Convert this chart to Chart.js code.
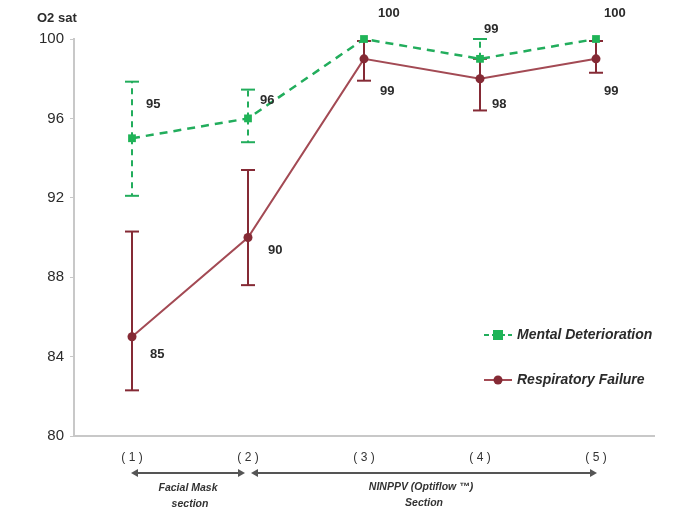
<!DOCTYPE html>
<html>
<head>
<meta charset="utf-8">
<script src="https://cdn.jsdelivr.net/npm/chart.js@4.4.1/dist/chart.umd.min.js"></script>
<style>
  html, body { margin: 0; padding: 0; background: #fff; }
  #wrap { width: 685px; height: 516px; position: relative; }
</style>
</head>
<body>
<div id="wrap"><canvas id="c" width="685" height="516"></canvas></div>
<script>
// Time points and O2 saturation by group
const timePoints = ['( 1 )', '( 2 )', '( 3 )', '( 4 )', '( 5 )'];
const mentalValues = [95, 96, 100, 99, 100];
const mentalErrUp = [2.85, 1.45, 0, 1.0, 0];
const mentalErrDown = [2.9, 1.2, 0, 0, 0];
const respValues = [85, 90, 99, 98, 99];
const respErrUp = [5.3, 3.4, 0.9, 1.0, 0.9];
const respErrDown = [2.7, 2.4, 1.1, 1.6, 0.7];
const yTicks = [80, 84, 88, 92, 96, 100];

const GREEN = '#22ad5c';
const GREEN_MARK = '#1fb457';
const RED = '#852a35';
const RED_LINE = '#a34a54';
const TEXT = '#2b2b2b';

// Error bars with caps, drawn through the chart's own scales
const errorBars = {
  id: 'errorBars',
  beforeDatasetsDraw(chart) {
    const ctx = chart.ctx;
    const x = chart.scales.x, y = chart.scales.y;
    const sets = [
      { vals: respValues, up: respErrUp, down: respErrDown, color: RED, dash: [] },
      { vals: mentalValues, up: mentalErrUp, down: mentalErrDown, color: GREEN, dash: [6, 5] }
    ];
    sets.forEach(s => {
      ctx.save();
      ctx.strokeStyle = s.color;
      ctx.lineWidth = 2;
      s.vals.forEach((v, i) => {
        const px = x.getPixelForValue(i);
        const segs = [];
        if (s.up[i] > 0) segs.push(v + s.up[i]);
        if (s.down[i] > 0) segs.push(v - s.down[i]);
        segs.forEach(end => {
          const py0 = y.getPixelForValue(v);
          const py1 = y.getPixelForValue(end);
          ctx.setLineDash(s.dash);
          ctx.beginPath(); ctx.moveTo(px, py0); ctx.lineTo(px, py1); ctx.stroke();
          ctx.setLineDash([]);
          ctx.beginPath(); ctx.moveTo(px - 7, py1); ctx.lineTo(px + 7, py1); ctx.stroke();
        });
      });
      ctx.restore();
    });
  }
};

// Value labels, axis caption, legend and section arrows
const annotations = {
  id: 'annotations',
  afterDraw(chart) {
    const ctx = chart.ctx;
    const x = chart.scales.x, y = chart.scales.y;
    ctx.save();
    ctx.fillStyle = TEXT;
    ctx.font = 'bold 13px "Liberation Sans", Arial, sans-serif';
    ctx.textBaseline = 'middle';
    ctx.textAlign = 'left';
    // label offsets (dx, dy) for each point
    const mOff = [[14, -34], [12, -18], [14, -26], [4, -29], [8, -26]];
    const rOff = [[18, 18], [20, 13], [16, 33], [12, 26], [8, 33]];
    mentalValues.forEach((v, i) => {
      ctx.fillText(String(v), x.getPixelForValue(i) + mOff[i][0], y.getPixelForValue(v) + mOff[i][1]);
    });
    respValues.forEach((v, i) => {
      ctx.fillText(String(v), x.getPixelForValue(i) + rOff[i][0], y.getPixelForValue(v) + rOff[i][1]);
    });

    // axis caption
    ctx.font = 'bold 13px "Liberation Sans", Arial, sans-serif';
    ctx.fillText('O2 sat', 37, 18);

    // legend
    const items = [
      { label: 'Mental Deterioration', color: GREEN, mark: 'rect', dash: [5, 3], y: 335 },
      { label: 'Respiratory Failure', color: RED_LINE, mark: 'circle', dash: [], y: 380 }
    ];
    items.forEach(it => {
      ctx.strokeStyle = it.color;
      ctx.lineWidth = 2;
      ctx.setLineDash(it.dash);
      ctx.beginPath(); ctx.moveTo(484, it.y); ctx.lineTo(512, it.y); ctx.stroke();
      ctx.setLineDash([]);
      if (it.mark === 'rect') {
        ctx.fillStyle = GREEN_MARK;
        ctx.fillRect(493, it.y - 5, 10, 10);
      } else {
        ctx.fillStyle = RED;
        ctx.beginPath(); ctx.arc(498, it.y, 4.5, 0, Math.PI * 2); ctx.fill();
      }
      ctx.fillStyle = TEXT;
      ctx.font = 'italic bold 14px "Liberation Sans", Arial, sans-serif';
      ctx.fillText(it.label, 517, it.y);
    });

    // section arrows under the axis
    const ay = 473;
    const arrow = (x0, x1) => {
      ctx.strokeStyle = '#555';
      ctx.fillStyle = '#555';
      ctx.lineWidth = 2;
      ctx.beginPath(); ctx.moveTo(x0 + 2, ay); ctx.lineTo(x1 - 2, ay); ctx.stroke();
      [[x0, 1], [x1, -1]].forEach(([px, d]) => {
        ctx.beginPath();
        ctx.moveTo(px, ay);
        ctx.lineTo(px + 7 * d, ay - 4);
        ctx.lineTo(px + 7 * d, ay + 4);
        ctx.closePath();
        ctx.fill();
      });
    };
    const p1 = x.getPixelForValue(0), p2 = x.getPixelForValue(1), p5 = x.getPixelForValue(4);
    arrow(p1 - 1, p2 - 3);
    arrow(p2 + 3, p5 + 1);

    ctx.fillStyle = '#333';
    ctx.textAlign = 'center';
    ctx.font = 'italic bold 10.5px "Liberation Sans", Arial, sans-serif';
    ctx.fillText('Facial Mask', 188, 488);
    ctx.fillText('section', 190, 504);
    ctx.fillText('NINPPV (Optiflow \u2122)', 421, 487);
    ctx.fillText('Section', 424, 503);
    ctx.restore();
  }
};

new Chart(document.getElementById('c'), {
  type: 'line',
  data: {
    labels: timePoints,
    datasets: [
      {
        label: 'Respiratory Failure',
        data: respValues,
        borderColor: RED_LINE,
        backgroundColor: RED,
        borderWidth: 2,
        pointStyle: 'circle',
        pointRadius: 4.5,
        pointBorderWidth: 0,
        tension: 0,
        clip: false
      },
      {
        label: 'Mental Deterioration',
        data: mentalValues,
        borderColor: GREEN,
        backgroundColor: GREEN_MARK,
        borderWidth: 2.5,
        borderDash: [8, 6],
        pointStyle: 'rect',
        pointRadius: 5.5,
        pointBorderWidth: 0,
        tension: 0,
        clip: false
      }
    ]
  },
  options: {
    responsive: false,
    animation: false,
    layout: { padding: { top: 39, right: 31, bottom: 52, left: 0 } },
    plugins: { legend: { display: false }, tooltip: { enabled: false } },
    scales: {
      x: {
        offset: true,
        grid: { display: false, drawTicks: false },
        border: { display: true, color: '#c8c8c8', width: 2 },
        ticks: {
          color: '#333',
          font: { size: 12, family: '"Liberation Sans", Arial, sans-serif' },
          padding: 14
        },
        afterFit(scale) { scale.height = 28; }
      },
      y: {
        min: 80,
        max: 100,
        afterBuildTicks(scale) { scale.ticks = yTicks.map(v => ({ value: v })); },
        grid: { drawOnChartArea: false, drawTicks: true, tickLength: 4, color: '#c8c8c8' },
        border: { display: true, color: '#c8c8c8', width: 2 },
        ticks: {
          color: '#2b2b2b',
          font: { size: 15, family: '"Liberation Sans", Arial, sans-serif' },
          padding: 6
        },
        afterFit(scale) { scale.width = 74; }
      }
    }
  },
  plugins: [errorBars, annotations]
});
</script>
</body>
</html>
